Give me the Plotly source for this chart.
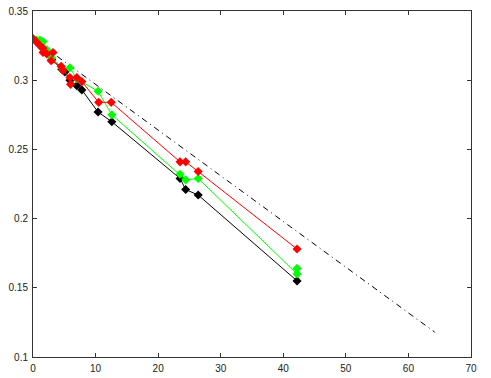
import plotly.graph_objects as go

black_x = [0, 0.5, 1.0, 1.6, 2.2, 3.0, 4.6, 5.1, 5.9, 7.0, 7.8, 10.4, 12.6, 23.5, 24.4, 26.4, 42.2]
black_y = [0.330, 0.328, 0.326, 0.323, 0.320, 0.315, 0.308, 0.306, 0.300, 0.296, 0.293, 0.277, 0.270, 0.229, 0.221, 0.217, 0.155]

green_x = [0, 0.5, 1.1, 1.6, 2.2, 3.0, 4.6, 5.9, 7.0, 10.4, 12.6, 23.5, 24.4, 26.4, 42.2, 42.2]
green_y = [0.330, 0.329, 0.329, 0.328, 0.322, 0.316, 0.309, 0.309, 0.301, 0.292, 0.275, 0.232, 0.228, 0.229, 0.160, 0.164]

red_x = [0, 0.5, 1.1, 1.6, 1.6, 2.2, 3.2, 2.9, 4.5, 4.8, 5.9, 6.0, 7.0, 7.8, 10.5, 12.5, 23.5, 24.4, 26.4, 42.2]
red_y = [0.330, 0.328, 0.325, 0.323, 0.320, 0.319, 0.320, 0.314, 0.310, 0.307, 0.302, 0.297, 0.302, 0.299, 0.284, 0.284, 0.241, 0.241, 0.234, 0.178]

ref_x = [0, 64.2]
ref_y = [0.330, 0.118]

x_ticks = [0, 10, 20, 30, 40, 50, 60, 70]
y_ticks = [0.1, 0.15, 0.2, 0.25, 0.3, 0.35]
y_tick_labels = ["0.1", "0.15", "0.2", "0.25", "0.3", "0.35"]

fig = go.Figure()
fig.add_trace(go.Scatter(x=ref_x, y=ref_y, mode="lines",
                         line=dict(color="black", width=1, dash="6px,4px,1px,4px")))
for xs, ys, c in [(black_x, black_y, "#000000"), (green_x, green_y, "#00ff00"), (red_x, red_y, "#ff0000")]:
    fig.add_trace(go.Scatter(x=xs, y=ys, mode="lines+markers",
                             line=dict(color=c, width=1),
                             marker=dict(symbol="diamond", size=7, color=c, line=dict(width=0))))

axis_common = dict(showgrid=False, zeroline=False, showline=True, linecolor="#333333", linewidth=1,
                   mirror="ticks", ticks="inside", ticklen=4, tickcolor="#333333", automargin=False,
                   ticklabelstandoff=2,
                   tickfont=dict(family="Arial, Liberation Sans", size=10, color="#222222"))
fig.update_xaxes(range=[0, 70], tickvals=x_ticks, **axis_common)
fig.update_yaxes(range=[0.1, 0.35], tickvals=y_ticks, ticktext=y_tick_labels, **axis_common)
fig.update_layout(width=491, height=378, showlegend=False,
                  margin=dict(l=33, r=20, t=11, b=21),
                  paper_bgcolor="white", plot_bgcolor="white")
fig.write_html("out.html", config={"displayModeBar": False},
               post_script="document.body.style.margin='0';document.body.style.overflow='hidden';")
